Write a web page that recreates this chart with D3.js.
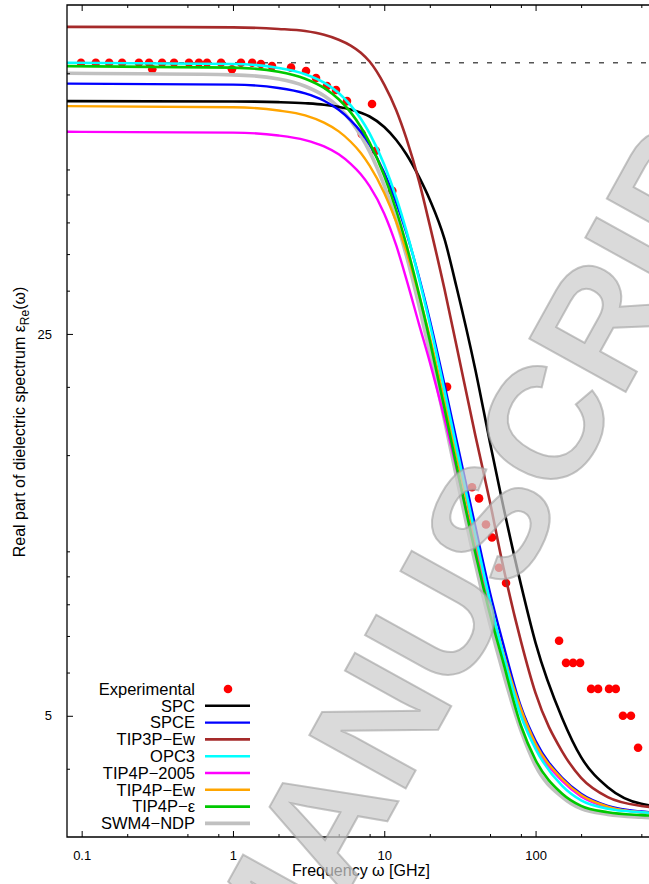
<!DOCTYPE html>
<html>
<head>
<meta charset="utf-8">
<script src="https://cdn.jsdelivr.net/npm/d3@7"></script>
<style>
  body { margin: 0; background: #fff; }
  svg text { font-family: "Liberation Sans", Arial, sans-serif; }
</style>
</head>
<body>
<div id="chart"></div>
<script>
// experimental points: [frequency GHz, eps_Re]
var expData = [
  [0.099,78.4],[0.124,78.4],[0.152,78.4],[0.185,78.4],[0.239,78.4],[0.279,78.4],[0.293,76.3],
  [0.34,78.4],[0.408,78.4],[0.512,78.4],[0.596,78.4],[0.674,78.4],[0.834,78.4],[0.985,76.3],
  [1.13,78.4],[1.34,78.4],[1.53,78.0],[1.81,77.3],[2.42,76.8],[3.04,75.7],[3.54,73.5],
  [4.18,71.1],[4.8,69.9],[5.67,66.7],[7.1,58.1],[8.3,65.9],[8.8,54.1],[11.3,45.7],
  [26.0,20.0],[38,13.1],[42.3,12.5],[47,11.2],[51.5,10.6],[57.3,9.33],[63.8,8.75],
  [143,6.86],[159,6.25],[177,6.25],[197,6.25],[233,5.6],[259,5.6],[306,5.6],[339,5.6],
  [378,5.0],[427,5.0],[476,4.37]
];

// model curves, read at these frequencies (GHz)
var freqs = [0.08,1,2,3,4,5,6,7,8,10,12,14,17,20,25,30,40,50,60,80,100,150,200,300,500,1000];
var spc       = [66.7,66.6,66.4,66.1,65.7,65.1,64.4,63.5,62.5,59.8,56.6,53.3,48.4,44.0,37.3,30.5,21.5,15.8,12.4,8.7,6.8,4.95,4.2,3.7,3.45,3.38];
var spce      = [71.8,71.5,70.5,68.9,66.8,64.3,61.5,58.6,55.5,49.3,43.5,38.3,31.7,26.5,20.2,16.0,11.1,8.4,6.9,5.2,4.5,3.85,3.6,3.42,3.34,3.31];
var tip3pEw   = [91.2,91.0,90.4,89.6,88.2,86.4,84.3,81.8,78.8,71.5,64.2,57.0,47.5,39.5,30.2,23.8,16.3,12.3,9.6,6.85,5.5,4.3,3.85,3.55,3.42,3.37];
var opc3      = [78.4,78.0,76.7,74.7,72.1,69.0,65.5,61.9,58.2,51.0,44.4,38.6,31.5,26.1,19.7,15.5,10.7,8.1,6.6,5.0,4.35,3.72,3.5,3.38,3.33,3.3];
var tip4p2005 = [58.6,58.4,57.7,56.6,55.1,53.3,51.2,49.0,46.6,41.5,36.3,31.5,26.0,22.2,17.5,14.2,10.2,7.95,6.6,5.05,4.4,3.8,3.56,3.4,3.33,3.3];
var tip4pEw   = [65.3,65.0,64.1,62.8,60.9,58.7,56.2,53.6,50.8,45.3,40.1,35.4,29.4,24.7,18.9,15.0,10.5,8.05,6.65,5.15,4.45,3.83,3.58,3.41,3.33,3.3];
var tip4pEps  = [77.3,76.8,75.5,73.3,70.5,67.2,63.6,59.8,56.0,48.7,42.1,36.4,29.5,24.3,18.25,14.35,9.93,7.67,6.38,4.8,4.15,3.6,3.42,3.33,3.29,3.27];
var swm4ndp   = [75.0,74.5,73.2,71.0,68.2,65.0,61.4,57.6,53.9,46.7,40.3,34.8,28.1,23.1,17.4,13.7,9.5,7.36,6.1,4.7,4.05,3.55,3.38,3.3,3.26,3.24];

var expStatic = 78.4;
var xMajor = [0.1, 1, 10, 100];
var xMinor = [0.2,0.5,0.8, 2,5,8, 20,50,80, 200,500,800];
var yMajor = [5, 25];
var yMinor = [4,6,7,8,9,10,15,20,30,35,40,45,50,75];

var names = ["SPC","SPCE","TIP3P\u2212Ew","OPC3","TIP4P\u22122005","TIP4P\u2212Ew","TIP4P\u2212\u03b5","SWM4\u2212NDP"];
var curves = [spc, spce, tip3pEw, opc3, tip4p2005, tip4pEw, tip4pEps, swm4ndp];
var colors = ["#000000","#0000ff","#a52a2a","#00ffff","#ff00ff","#ffa500","#00c800","#c0c0c0"];
var widths = [2.6, 2.4, 2.6, 2.6, 2.4, 2.4, 2.6, 3.6];

var W = 649, H = 884;
var plotL = 67, plotT = 5, plotB = 837;
var pxPerDecade = 151.3;

var svg = d3.select("#chart").append("svg").attr("width", W).attr("height", H);

var x = d3.scaleLog().domain([0.08, 1000]).range([plotL, plotL + pxPerDecade*Math.log10(1000/0.08)]);
var y = d3.scaleLog().domain([3, 100]).range([plotB, plotT]);

svg.append("clipPath").attr("id","plotclip").append("rect")
  .attr("x", plotL).attr("y", plotT).attr("width", W - plotL + 5).attr("height", plotB - plotT);

var plot = svg.append("g").attr("clip-path","url(#plotclip)");

// experimental static value
plot.append("line")
  .attr("x1", plotL).attr("x2", W + 10)
  .attr("y1", y(expStatic)).attr("y2", y(expStatic))
  .attr("stroke","#555").attr("stroke-width",1.3).attr("stroke-dasharray","5,9");

plot.selectAll(".expDot").data(expData).enter().append("circle")
  .attr("class","expDot")
  .attr("cx", function(d){ return x(d[0]); })
  .attr("cy", function(d){ return y(d[1]); })
  .attr("r", 4.3)
  .attr("fill","#ff0000");

var line = d3.line()
  .x(function(d,i){ return x(freqs[i]); })
  .y(function(d){ return y(d); })
  .curve(d3.curveMonotoneX);

// gray first so the thinner ones sit on top of it
var order = [7,0,2,1,4,5,3,6];
order.forEach(function(i){
  plot.append("path")
    .attr("d", line(curves[i]))
    .attr("fill","none")
    .attr("stroke", colors[i])
    .attr("stroke-width", widths[i])
    .attr("stroke-linejoin","round");
});

// axes
var axisG = svg.append("g");
function styleAxis(g){
  g.selectAll("text").attr("font-family","Liberation Sans, Arial, sans-serif").attr("font-size",13).attr("fill","#000");
  g.selectAll("line").attr("stroke","#000").attr("stroke-width",1);
  g.select(".domain").remove();
}
axisG.append("g").attr("transform","translate(0,"+plotB+")")
  .call(d3.axisBottom(x).tickValues(xMajor).tickSizeInner(-6).tickSizeOuter(0).tickPadding(14)
    .tickFormat(function(d){ return d < 1 ? d3.format(".1f")(d) : d3.format("d")(d); }))
  .call(styleAxis);
axisG.append("g").attr("transform","translate(0,"+plotB+")")
  .call(d3.axisBottom(x).tickValues(xMinor).tickSizeInner(-3).tickSizeOuter(0).tickFormat(""))
  .call(styleAxis);
axisG.append("g").attr("transform","translate(0,"+plotT+")")
  .call(d3.axisTop(x).tickValues(xMajor).tickSizeInner(-6).tickSizeOuter(0).tickFormat(""))
  .call(styleAxis);
axisG.append("g").attr("transform","translate(0,"+plotT+")")
  .call(d3.axisTop(x).tickValues(xMinor).tickSizeInner(-3).tickSizeOuter(0).tickFormat(""))
  .call(styleAxis);
axisG.append("g").attr("transform","translate("+plotL+",0)")
  .call(d3.axisLeft(y).tickValues(yMajor).tickSizeInner(-6).tickSizeOuter(0).tickPadding(15).tickFormat(d3.format("d")))
  .call(styleAxis);
axisG.append("g").attr("transform","translate("+plotL+",0)")
  .call(d3.axisLeft(y).tickValues(yMinor).tickSizeInner(-3).tickSizeOuter(0).tickFormat(""))
  .call(styleAxis);

// frame
svg.append("path")
  .attr("d","M"+(W+5)+","+plotT+"H"+plotL+"V"+plotB+"H"+(W+5))
  .attr("fill","none").attr("stroke","#000").attr("stroke-width",1.3);

// axis titles
svg.append("text")
  .attr("x", 361).attr("y", 876)
  .attr("text-anchor","middle").attr("font-size",16)
  .text("Frequency \u03c9 [GHz]");

var yt = svg.append("text")
  .attr("transform","translate(25,422) rotate(-90)")
  .attr("text-anchor","middle").attr("font-size",16);
yt.append("tspan").text("Real part of dielectric spectrum \u03b5");
yt.append("tspan").attr("font-size",12).attr("dy",4).text("Re");
yt.append("tspan").attr("dy",-4).text("(\u03c9)");

// legend
var legend = svg.append("g");
var legY0 = 689, legStep = 16.8;
legend.append("text").attr("x",195).attr("y",legY0).attr("dy","0.35em")
  .attr("text-anchor","end").attr("font-size",16.5).text("Experimental");
legend.append("circle").attr("cx",228).attr("cy",legY0).attr("r",4.3).attr("fill","#ff0000");
names.forEach(function(n,i){
  var yy = legY0 + legStep*(i+1);
  legend.append("text").attr("x",195).attr("y",yy).attr("dy","0.35em")
    .attr("text-anchor","end").attr("font-size",16.5).text(n);
  legend.append("line").attr("x1",205).attr("x2",250).attr("y1",yy).attr("y2",yy)
    .attr("stroke",colors[i]).attr("stroke-width",widths[i]);
});

// watermark
svg.append("text")
  .attr("transform","translate(490,522) rotate(-61)")
  .attr("text-anchor","middle").attr("dominant-baseline","central")
  .attr("font-size",160).attr("font-weight","bold")
  .attr("fill","#cccccc").attr("fill-opacity",0.72)
  .attr("stroke","#a0a0a0").attr("stroke-opacity",0.6).attr("stroke-width",2)
  .text("MANUSCRIPT");
</script>
</body>
</html>
